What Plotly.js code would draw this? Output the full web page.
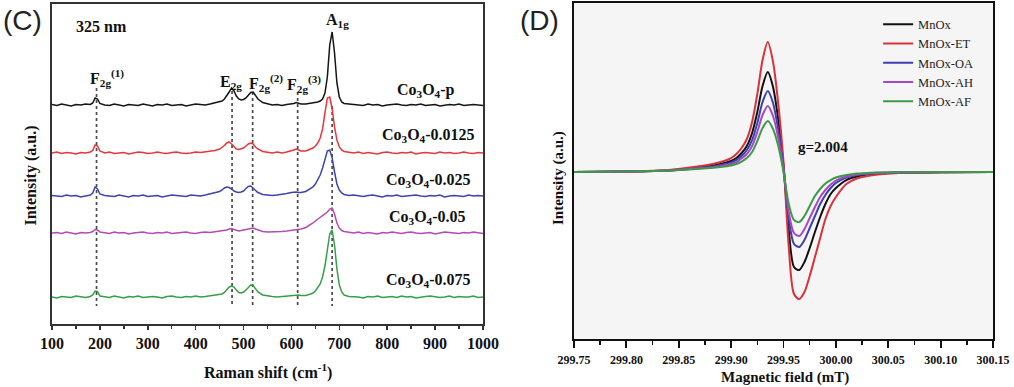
<!DOCTYPE html>
<html>
<head>
<meta charset="utf-8">
<script src="https://cdn.plot.ly/plotly-3.0.1.min.js"></script>
<style>html,body{margin:0;padding:0;background:#fff;}#chart{width:1014px;height:387px;}</style>
</head>
<body>
<div id="chart"></div>
<script>
// ---------- Panel (C): Raman spectra ----------
const ramanShift = [100,110,120,130,140,150,160,170,180,185,190,195,200,210,220,230,240,250,260,270,280,290,300,310,320,330,340,350,360,370,380,390,400,410,420,430,440,450,455,460,465,470,475,480,485,490,495,500,505,510,515,520,525,530,540,550,560,570,580,590,600,605,610,615,620,630,640,645,650,655,660,665,670,675,680,685,690,695,700,705,710,720,730,740,750,760,770,780,790,800,810,820,830,840,850,860,870,880,890,900,910,920,930,940,950,960,970,980,990,1000];

const ramanNames = ['Co3O4-p','Co3O4-0.0125','Co3O4-0.025','Co3O4-0.05','Co3O4-0.075'];
const ramanLabels = ['Co<sub>3</sub>O<sub>4</sub>-p','Co<sub>3</sub>O<sub>4</sub>-0.0125','Co<sub>3</sub>O<sub>4</sub>-0.025','Co<sub>3</sub>O<sub>4</sub>-0.05','Co<sub>3</sub>O<sub>4</sub>-0.075'];
const ramanOffsets = [219, 171, 128, 91, 27];

const ramanP = [0.5,-0.5,1,0,-1,0.5,0,1,0.5, 2,7,6,1.5,
 0,-0.5,1,0,-1,0.5,0,-0.5,1,0,-1,0.5,0,1,-0.5,0,0.5,-1,0,1,0.5,0,1,2,
 3,4,6,9,13,17,14,9,6,5,5.5,7,10,12.5,13,10,6,
 2.5,1,0,0.5,-0.5,0.5,1, 1.5,2.5,2, 1,1,1.5,
 2,2.5,3,4,6,12,28,60,73,52,22,8,3,1.5,
 1, 0.5,0,-0.5,1,0,0.5,-1,0,0.5,1,0,-0.5,0.5,0,1,-0.5,0,0.5,-1,0,0.5,0,1,-0.5,0,0.5,0,-0.5];
const raman0125 = [0,1,-0.5,0.5,0,-1,0.5,0,1, 2.5,8,7,2,
 0,1,-0.5,0,0.5,-1,0,1,0.5,-0.5,0,1,0,-0.5,0.5,1,0,-0.5,0,1,0.5,1,1.5,2.5,
 4,5.5,7.5,10,11,9,6,4,3.5,4,5,7,9,10,9,6,4,
 1.5,0.5,0,1,0,1,2, 3,4,3, 2,2,4,
 5,7,10,15,24,40,55,56,44,26,13,6,3,1.5,
 0.5, 0,1,-0.5,0.5,0,-1,0.5,1,0,-0.5,0.5,0,1,-1,0,0.5,0,-0.5,1,0,0.5,-0.5,0,1,0,-0.5,0.5,0];
const raman025 = [0.5,0,-0.5,1,0,0.5,-1,0,1, 3,9,7,2,
 0.5,0,-0.5,1,0,-1,0.5,0,1,-0.5,0,0.5,-1,0,1,0.5,0,-0.5,1,0.5,0,1,2,3,
 4.5,6,8,9,8.5,7,5,4,3.5,4,5,7.5,9.5,10,8,5.5,3.5,
 1.5,1,0.5,1,1.5,2.5,3.5, 4,4,3.5, 3.5,4.5,7,
 9,12,16,21,28,36,45,46,38,24,12,6,3,1.5,
 0.5, 1,0,-0.5,0.5,1,0,-1,0.5,0,1,-0.5,0,0.5,1,0,-0.5,0.5,0,1,-1,0,0.5,0,-0.5,1,0,0.5,0];
const raman05 = [0,0.5,-0.5,1,0,-1,0.5,0,0.5, 1.5,3.5,3,1,
 0,-0.5,1,0,0.5,-1,0,0.5,1,0,-0.5,0.5,0,1,-0.5,0,0.5,1,0,-0.5,0.5,1,0.5,1,
 1.5,2,2.5,3,4,4.5,3.5,2.5,2,2.5,3,3.5,4.5,5,5,4,3,
 1.5,1,1,1,1.5,2,2.5, 3,3.5,3.5, 4,5.5,8,
 10,12,14,16,17.5,19,21,24,25,19,10,5,2.5,1.5,
 0.5, 0,1,-0.5,0.5,0,-1,0.5,0,1,0,-0.5,0.5,1,0,-0.5,0,0.5,-1,0,1,0.5,0,-0.5,0.5,0,1,0,-0.5];
const raman075 = [0,-1,0.5,0,-0.5,1,0,-0.5,0.5, 2,6,5.5,1,
 0,-0.5,1,0,-1,0.5,0,1,-0.5,0,0.5,0,-1,0.5,1,0,-0.5,0.5,0,1,0,0.5,1,2,
 2.5,3,4.5,7,10,11,10,7,4.5,4,5,7,10,12,11.5,8.5,5,
 2,1,0.5,0,0.5,1,1.5, 2,2.5,2, 1.5,1.5,3,
 4,6,9,13,20,31,47,63,67,52,28,12,5,2,
 0.5, 0.5,0,-1,0.5,0,1,-0.5,0,0.5,-0.5,1,0,0.5,-1,0,0.5,1,0,-0.5,0,1,-0.5,0.5,0,0,1,-0.5,0];
const ramanSeries = [ramanP, raman0125, raman025, raman05, raman075];
const ramanColors = ['#151515','#e8363a','#3b45ad','#b44bb4','#35a047'];

// peak reference lines (cm-1) and label texts
const peakPositions = [193, 476, 519, 613, 685];
const peakLineTop = [236, 233, 232, 232, 218];
const peakLineBottom = 18;
const peakLabels = ['F<sub>2g</sub><sup>(1)</sup>','E<sub>2g</sub>','F<sub>2g</sub><sup>(2)</sup>','F<sub>2g</sub><sup>(3)</sup>','A<sub>1g</sub>'];
const peakLabelX = [175, 447, 507, 586, 668];
const peakLabelY = [246, 241, 241, 240, 303];
const sampleLabelX = [946, 988, 979, 969, 979];
const sampleLabelY = [233, 188, 143, 106, 43];

// ---------- Panel (D): EPR spectra ----------
const field = [299.75,299.80,299.84,299.86,299.88,299.89,299.90,299.905,299.91,299.915,299.92,299.925,299.93,299.935,299.94,299.945,299.95,299.955,299.96,299.965,299.97,299.975,299.98,299.985,299.99,299.995,300.00,300.01,300.02,300.03,300.04,300.06,300.10,300.15];
const eprNames = ['MnOx','MnOx-ET','MnOx-OA','MnOx-AH','MnOx-AF'];
const eprMnOx = [0,0.5,1.5,3.5,6,8,11,14,19,26,39,60,86,100,85,52,6,-58,-95,-98,-90,-76,-60,-45,-32,-22,-16,-8,-4.5,-2.5,-1.5,-0.6,-0.2,0];
const eprET   = [0,0.5,2,4.5,7.5,10,14,18,24,33,50,78,112,130,110,68,10,-75,-122,-127,-120,-104,-85,-66,-47,-34,-25,-12,-6.5,-4,-2.5,-1,-0.3,0];
const eprOA   = [0,0.5,1.5,3,5,7,9.5,12,16,22,32,49,70,81,69,42,4,-46,-72,-75,-68,-56,-44,-32,-23,-16,-11,-5.5,-3,-2,-1,-0.5,-0.2,0];
const eprAH   = [0,0.5,1.5,3,4.5,6,8,10,13.5,18,26,40,57,66,56,34,2,-40,-61,-64,-57,-46,-35,-25,-18,-12.5,-8.5,-4.5,-2.5,-1.5,-0.8,-0.4,-0.1,0];
const eprAF   = [0,0.5,1.5,2.5,4,5,6.5,8,10.5,14,20,31,44,51,43,26,0,-32,-48,-50,-44,-34,-24,-17,-11.5,-8,-5.5,-3,-1.5,-1,-0.5,-0.2,-0.1,0];
const eprSeries = [eprMnOx, eprET, eprOA, eprAH, eprAF];
const eprColors = ['#111111','#d8333b','#3d3fb2','#a548c6','#3f9a46'];
const gLabel = 'g=2.004';
const gLabelPos = [299.988, 25];

// sanity check
ramanSeries.forEach((s,i)=>{ if(s.length!==ramanShift.length) throw new Error('raman length '+i+' '+s.length); });
eprSeries.forEach((s,i)=>{ if(s.length!==field.length) throw new Error('epr length '+i+' '+s.length); });

const SERIF = 'Liberation Serif, Times New Roman, serif';
const traces = [];

// dashed reference lines
const dx = [], dy = [];
peakPositions.forEach((p,i)=>{ dx.push(p,p,null); dy.push(peakLineTop[i], peakLineBottom, null); });
traces.push({x:dx, y:dy, mode:'lines', xaxis:'x', yaxis:'y', showlegend:false, hoverinfo:'skip',
  line:{color:'#4a4a4a', width:1.7, dash:'3px,3px'}});

ramanSeries.forEach((s,i)=>{
  traces.push({x:ramanShift, y:s.map(v=>v+ramanOffsets[i]), mode:'lines', name:ramanNames[i],
    xaxis:'x', yaxis:'y', showlegend:false, line:{color:ramanColors[i], width:1.5}});
});

eprSeries.forEach((s,i)=>{
  traces.push({x:field, y:s, mode:'lines', name:eprNames[i], xaxis:'x2', yaxis:'y2',
    line:{color:eprColors[i], width:2, shape:'spline', smoothing:0.8}});
});

const annotations = [];
const bold = (size)=>({family:SERIF, size:size, color:'#111', weight:'bold'});
annotations.push({xref:'x', yref:'y', x:204, y:297, text:'325 nm', showarrow:false, font:bold(16), xanchor:'center', yanchor:'middle'});
peakLabels.forEach((t,i)=>annotations.push({xref:'x', yref:'y', x:peakLabelX[i], y:peakLabelY[i], text:t, showarrow:false, font:bold(16), xanchor:'left', yanchor:'middle'}));
ramanLabels.forEach((t,i)=>annotations.push({xref:'x', yref:'y', x:sampleLabelX[i], y:sampleLabelY[i], text:t, showarrow:false, font:bold(16), xanchor:'right', yanchor:'middle'}));
annotations.push({xref:'x2', yref:'y2', x:gLabelPos[0], y:gLabelPos[1], text:gLabel, showarrow:false, font:bold(15), xanchor:'center', yanchor:'middle'});
// axis titles and panel letters
annotations.push({xref:'paper', yref:'paper', x:0.2643, y:0.0413, text:'Raman shift (cm<sup>-1</sup>)', showarrow:false, font:bold(16), xanchor:'center', yanchor:'middle'});
annotations.push({xref:'paper', yref:'paper', x:0.7742, y:0.0258, text:'Magnetic field (mT)', showarrow:false, font:bold(15), xanchor:'center', yanchor:'middle'});
annotations.push({xref:'paper', yref:'paper', x:0.0296, y:0.5465, text:'Intensity (a.u.)', textangle:-90, showarrow:false, font:bold(16), xanchor:'center', yanchor:'middle'});
annotations.push({xref:'paper', yref:'paper', x:0.5503, y:0.540, text:'Intensity (a.u.)', textangle:-90, showarrow:false, font:bold(15), xanchor:'center', yanchor:'middle'});
annotations.push({xref:'paper', yref:'paper', x:0.0217, y:0.9483, text:'(C)', showarrow:false, font:{family:'Liberation Sans, Arial, sans-serif', size:28, color:'#222'}, xanchor:'center', yanchor:'middle'});
annotations.push({xref:'paper', yref:'paper', x:0.5325, y:0.9483, text:'(D)', showarrow:false, font:{family:'Liberation Sans, Arial, sans-serif', size:28, color:'#222'}, xanchor:'center', yanchor:'middle'});

const layout = {
  width:1014, height:387, margin:{l:0,r:0,t:0,b:0},
  paper_bgcolor:'#ffffff', plot_bgcolor:'rgba(0,0,0,0)',
  font:{family:SERIF, color:'#111'},
  showlegend:true,
  legend:{x:0.866, y:0.975, xanchor:'left', yanchor:'top', bgcolor:'rgba(0,0,0,0)', font:{family:SERIF, size:12.5, color:'#222'}, tracegroupgap:0},
  xaxis:{domain:[0.0513,0.4763], anchor:'y', range:[100,1000], tickmode:'linear', tick0:100, dtick:100,
    ticks:'outside', ticklen:4, tickwidth:1.5, tickcolor:'#333', ticklabelstandoff:0,
    minor:{ticks:'outside', ticklen:3, tickwidth:1.5, tickcolor:'#333', tick0:150, dtick:100, showgrid:false},
    showline:true, linecolor:'#333', linewidth:1.6, mirror:true, showgrid:false, zeroline:false,
    tickfont:bold(16), automargin:false},
  yaxis:{domain:[0.1628,0.9897], anchor:'x', range:[0,320], showticklabels:false, ticks:'',
    showline:true, linecolor:'#333', linewidth:1.6, mirror:true, showgrid:false, zeroline:false, automargin:false},
  xaxis2:{domain:[0.5661,0.9793], anchor:'y2', range:[299.75,300.15], tickmode:'linear', tick0:299.75, dtick:0.05, tickformat:'.2f',
    ticks:'outside', ticklen:7, tickwidth:1.8, tickcolor:'#111', ticklabelstandoff:2,
    minor:{ticks:'outside', ticklen:4, tickwidth:1.5, tickcolor:'#111', tick0:299.775, dtick:0.05, showgrid:false},
    showline:true, linecolor:'#111', linewidth:2, mirror:true, showgrid:false, zeroline:false,
    tickfont:bold(12), automargin:false},
  yaxis2:{domain:[0.124,0.9922], anchor:'x2', range:[-167,169], showticklabels:false, ticks:'',
    showline:true, linecolor:'#111', linewidth:2, mirror:true, showgrid:false, zeroline:false, automargin:false},
  shapes:[{type:'rect', xref:'x2 domain', yref:'y2 domain', x0:0, x1:1, y0:0, y1:1, fillcolor:'#f5f5f5', line:{width:0}, layer:'below'}],
  annotations:annotations
};

Plotly.newPlot('chart', traces, layout, {staticPlot:true, displayModeBar:false});
</script>
</body>
</html>
